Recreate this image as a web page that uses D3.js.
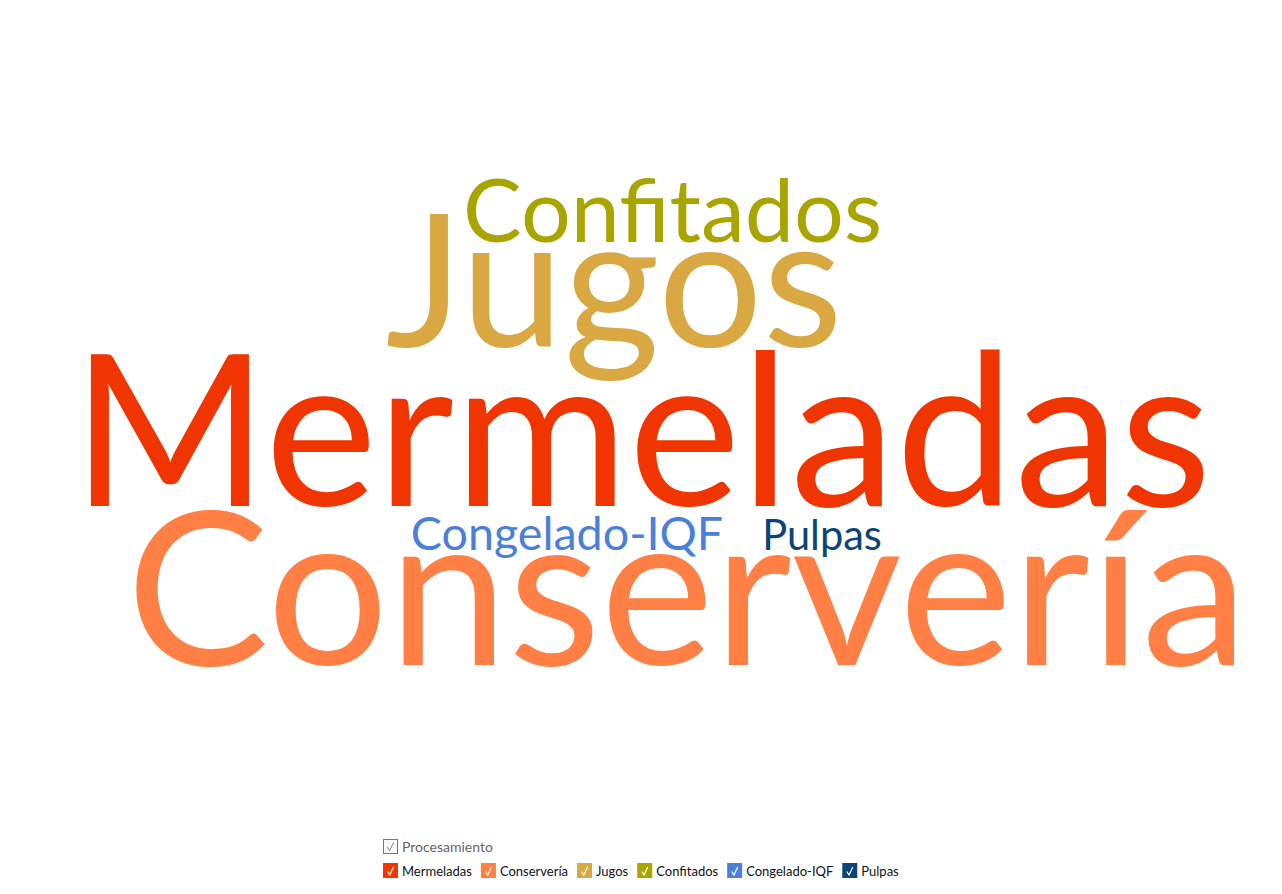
<!DOCTYPE html>
<html><head><meta charset="utf-8">
<script src="https://cdn.jsdelivr.net/npm/d3@7"></script>
<style>body{margin:0;background:#fff}svg{display:block}</style>
</head><body>
<svg id="c" width="1282" height="894"></svg>
<script>
const categories = ["Mermeladas","Conservería","Jugos","Confitados","Congelado-IQF","Pulpas"];
const values = [100, 101, 87, 41.5, 22, 19.6];
const colors = ["#F03500","#FF7F45","#D9A843","#A8A400","#4A80D9","#0A4479"];
const legendTitle = "Procesamiento";
// word-cloud placement (center x, baseline y) — layout only
const layoutX = [641.5, 687, 614, 672.5, 567, 822];
const layoutY = [506, 665, 347, 242, 550, 550];

const svg = d3.select("#c");
const font = "Lato, 'Open Sans', sans-serif";
const size = d3.scaleLinear().domain([0, 100]).range([0, 212]);

svg.append("g").selectAll("text").data(categories).join("text")
  .attr("x", (d,i)=>layoutX[i]).attr("y", (d,i)=>layoutY[i])
  .attr("text-anchor","middle")
  .style("font-family", font)
  .style("font-size", (d,i)=>size(values[i])+"px")
  .attr("fill", (d,i)=>colors[i])
  .text(d=>d);

// legend
const lg = svg.append("g").attr("transform","translate(383,839)");
const t = lg.append("g");
t.append("rect").attr("x",0.5).attr("y",0.5).attr("width",14).attr("height",14).attr("fill","#fff").attr("stroke","#777");
t.append("path").attr("d","M4,8 L6.5,11.5 L11,3").attr("fill","none").attr("stroke","#777").attr("stroke-width",1);
t.append("text").attr("x",19).attr("y",12.5).style("font-family",font).style("font-size","14px").attr("fill","#666").text(legendTitle);

let x = 0;
const row = lg.append("g").attr("transform","translate(0,24)");
categories.forEach((c,i)=>{
  const g = row.append("g").attr("transform",`translate(${x},0)`);
  g.append("rect").attr("width",15).attr("height",15).attr("fill",colors[i]);
  g.append("path").attr("d","M4.5,8.5 L6.8,12 L10.5,4").attr("fill","none").attr("stroke","#fff").attr("stroke-width",1.2);
  const tx = g.append("text").attr("x",19).attr("y",12.5).style("font-family",font).style("font-size","13px").attr("fill","#111").text(c);
  x += 19 + tx.node().getComputedTextLength() + 9;
});
</script>
</body></html>
